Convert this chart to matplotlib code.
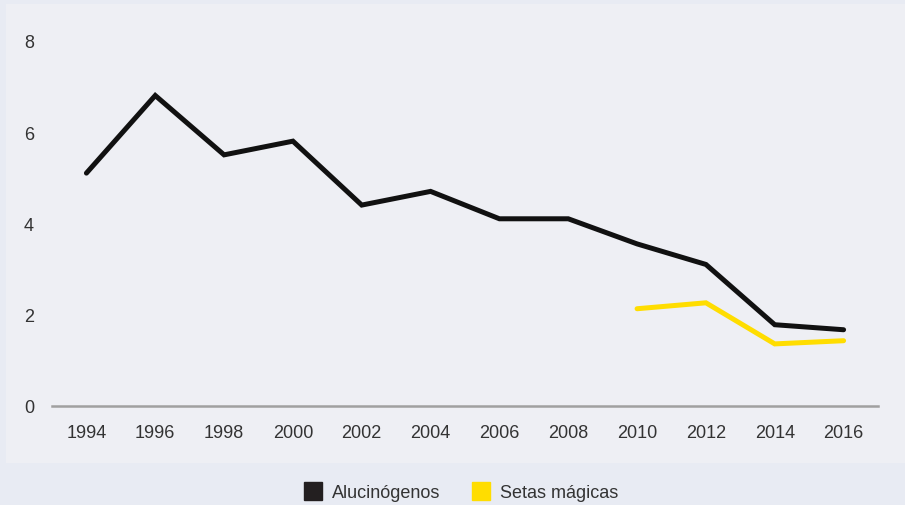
import matplotlib.pyplot as plt
from matplotlib.patches import Rectangle
from matplotlib.lines import Line2D

years = [1994, 1996, 1998, 2000, 2002, 2004, 2006, 2008, 2010, 2012, 2014, 2016]
alucinogenos = [5.1, 6.8, 5.5, 5.8, 4.4, 4.7, 4.1, 4.1, 3.55, 3.1, 1.78, 1.67]
setas_years = [2010, 2012, 2014, 2016]
setas = [2.13, 2.26, 1.36, 1.43]
yticks = [0, 2, 4, 6, 8]

plt.rcParams['font.family'] = ['Liberation Sans', 'DejaVu Sans']

fig = plt.figure(figsize=(9.05, 5.06), dpi=100)
fig.patch.set_facecolor('#e8ebf3')
# lighter panel behind the chart
fig.patches.append(Rectangle((6 / 905, 1 - 464 / 506), 1, (464 - 5) / 506,
                             transform=fig.transFigure, facecolor='#eeeff4',
                             edgecolor='none', zorder=-5))

ax = fig.add_axes([52 / 905, 1 - 407 / 506, (878 - 52) / 905, (407 - 28) / 506])
ax.set_facecolor('none')
ax.plot(years, alucinogenos, color='#111111', lw=3.6, solid_capstyle='round',
        solid_joinstyle='miter')
ax.plot(setas_years, setas, color='#ffdd00', lw=3.6, solid_capstyle='round',
        solid_joinstyle='miter')

ax.set_xlim(1993, 2017)
ax.set_ylim(0, 8.3)
ax.set_xticks(years)
ax.set_yticks(yticks)
ax.tick_params(length=0, labelsize=13, labelcolor='#333333')
ax.tick_params(axis='x', pad=13)
ax.tick_params(axis='y', pad=13)
for s in ['top', 'right', 'left']:
    ax.spines[s].set_visible(False)
ax.spines['bottom'].set_color('#a0a0a0')
ax.spines['bottom'].set_linewidth(1.8)

handles = [Line2D([], [], marker='s', linestyle='none', markersize=12.5,
                  markerfacecolor='#231f20', markeredgecolor='#231f20'),
           Line2D([], [], marker='s', linestyle='none', markersize=12.5,
                  markerfacecolor='#ffdd00', markeredgecolor='#ffdd00')]
fig.legend(handles, ['Alucinógenos', 'Setas mágicas'], ncol=2, frameon=False,
           loc='center', bbox_to_anchor=(461 / 905, 1 - 494 / 506),
           fontsize=13, labelcolor='#333333', handletextpad=0.55,
           columnspacing=1.75, handlelength=1.0)

fig.savefig('out.png', dpi=100, facecolor=fig.get_facecolor())
